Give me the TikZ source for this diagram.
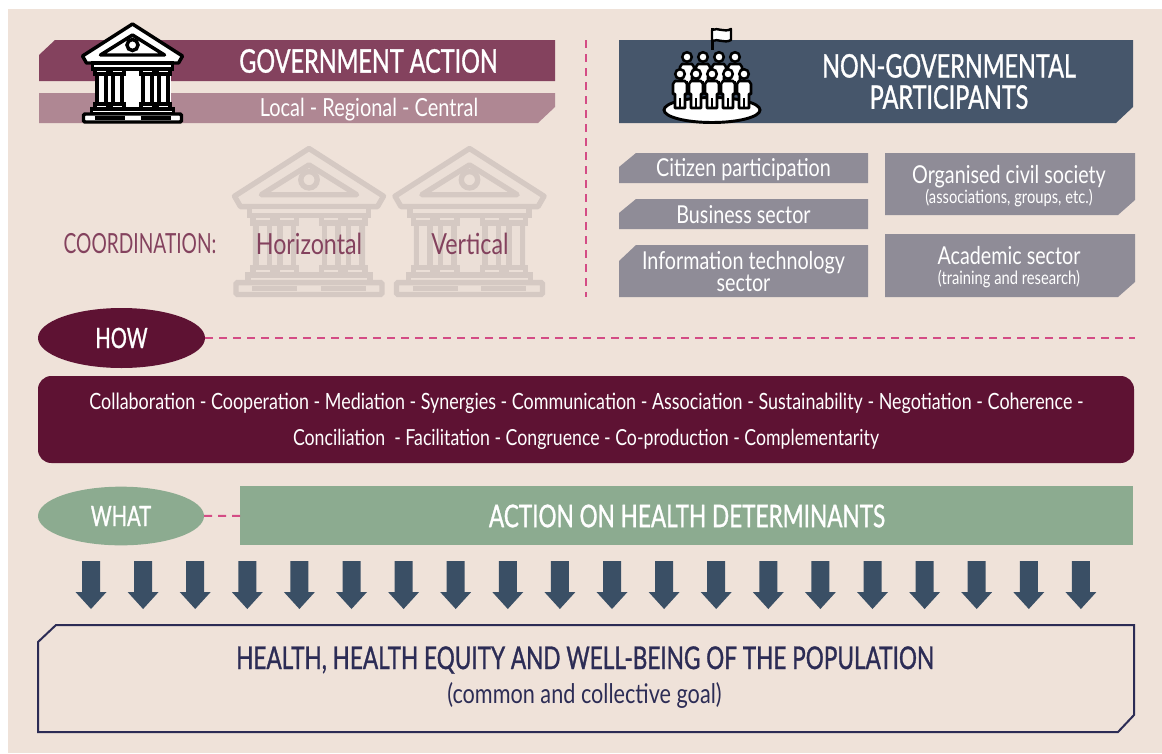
\documentclass[tikz,border=0pt]{standalone}
\usepackage{xcolor}
\usepackage{fontspec}
\setmainfont{Lato}[FakeStretch=0.8]
\newfontfamily\capsfont{Lato}[FakeStretch=0.72,FakeBold=1]
\newfontfamily\capsthin{Lato}[FakeStretch=0.69]
\usetikzlibrary{shapes.geometric}
\definecolor{paper}{HTML}{EFE2D9}
\definecolor{govdark}{HTML}{84425E}
\definecolor{govlight}{HTML}{AF8793}
\definecolor{slate}{HTML}{46566B}
\definecolor{greybox}{HTML}{8F8C97}
\definecolor{wine}{HTML}{5E1233}
\definecolor{sage}{HTML}{8CAB90}
\definecolor{arrowblue}{HTML}{3A4F65}
\definecolor{inkblue}{HTML}{2C2C55}
\definecolor{dashpink}{HTML}{D44C85}
\definecolor{ghost}{HTML}{D5C9C3}
\definecolor{ghostfill}{HTML}{EBDFD7}
\newcommand{\txt}[1]{\fontsize{#1}{#1}\selectfont}
\tikzset{
  x=0.75pt,y=-0.75pt,
  bar/.style={fill=#1,inner sep=0pt,outer sep=0pt,rectangle},
  oval/.style={fill=#1,ellipse,inner sep=0pt,outer sep=0pt,text=white,font=\capsfont\txt{21}},
  whitetext/.style={text=white,inner sep=0pt,align=center},
  linkdash/.style={dashpink,line width=1.5pt,dash pattern=on 6pt off 4.5pt},
  pics/temple/.style n args={3}{code={
    \fill[#2](-38,40)rectangle(38,90);
    \foreach \cx in {-31,-15,15,31}{
      \draw[#1,fill=#2,line width=#3](\cx-4.5,50)rectangle(\cx+4.5,81);
      \draw[#1,fill=#2,line width=#3](\cx-6.5,46)rectangle(\cx+6.5,51);
      \draw[#1,fill=#2,line width=#3](\cx-6.5,81)rectangle(\cx+6.5,86);
    }
    \draw[#1,fill=#2,line width=#3,line join=round](0,1)--(50,33)--(46,40)--(-46,40)--(-50,33)--cycle;
    \draw[#1,line width=#3,line join=round](0,12)--(32,32)--(-32,32)--cycle;
    \draw[#1,line width=#3](0,22)circle(5.5);
    \draw[#1,fill=#2,line width=#3](-40,40)rectangle(40,46);
    \draw[#1,fill=#2,line width=#3](-41,86)rectangle(41,91);
    \draw[#1,fill=#2,line width=#3,rounded corners=1](-49,91)rectangle(49,99);
    \draw[#1,line width=#3](-38,95)--(-8,95)(8,95)--(38,95);
  }},
  pics/person/.style={code={
    \draw[black,fill=white,line width=1.9pt](0,0)circle(4.8);
    \draw[black,fill=white,line width=1.9pt,line join=round](-5,7)--(5,7)--(7,10)--(7,20)--(5,20)--(5,34)--(-5,34)--(-5,20)--(-7,20)--(-7,10)--cycle;
    \draw[black,line width=1.4pt](0,24)--(0,34);
  }},
}
\begin{document}
\begin{tikzpicture}
	\useasboundingbox(0,0)rectangle(1162,753);
	\fill[white](0,0)rectangle(1162,753);
	\fill[paper](8,9)rectangle(1162,753);
	% government side
	\fill[govdark](39,55)--(55,40)--(555,40)--(555,81)--(39,81)--cycle;
	\fill[govlight](39,93)--(555,93)--(555,107)--(538,123)--(39,123)--cycle;
	\node[whitetext,font=\capsfont\txt{24.4}](govtitle) at(368.5,61){GOVERNMENT ACTION};
	\node[whitetext,font=\txt{18.7}](leveltext) at(369,109.5){Local - Regional - Central};
	\pic at(132.5,23){temple={black}{white}{2.6pt}};
	\pic[scale=1.49] at(309,147){temple={ghost}{ghostfill}{4pt}};
	\pic[scale=1.49] at(469.5,147){temple={ghost}{ghostfill}{4pt}};
	\node[text=govdark,inner sep=0pt,font=\capsthin\txt{20.8}](coordlabel) at(140,243.5){COORDINATION:};
	\node[text=govdark,inner sep=0pt,font=\txt{21.8}](horizontal) at(309,244){Horizontal};
	\node[text=govdark,inner sep=0pt,font=\txt{21.8}](vertical) at(470,244){Vertical};
	% divider
	\coordinate(divtop) at(586,40);
	\coordinate(divbottom) at(586,297);
	\draw[linkdash](divtop)--(divbottom);
	% non governmental side
	\fill[slate](619,40)--(1133,40)--(1133,107)--(1116,123)--(619,123)--cycle;
	\node[whitetext,font=\capsfont\txt{24.4}](ngotitle) at(949,81.5){NON-GOVERNMENTAL\\[-1pt]PARTICIPANTS};
	\draw[black,line width=2.2pt,fill=white](712,110)ellipse(48 and 12.5);
	\fill[black](710.5,28)rectangle(713.5,50);
	\draw[black,fill=white,line width=1.8pt,line join=round](712,30).. controls (718,27) and (724,33) ..(731,29)--(731,40).. controls (724,44) and (718,38) ..(712,41)--cycle;
	\foreach \hx in {687,703,719,735}{\pic at(\hx,57){person};}
	\foreach \hx in {680,696,712,728,744}{\pic at(\hx,74){person};}
	\fill[greybox](619,167)--(636,153)--(868,153)--(868,183)--(619,183)--cycle;
	\fill[greybox](619,213)--(636,199)--(868,199)--(868,229)--(619,229)--cycle;
	\fill[greybox](619,261)--(636,245)--(868,245)--(868,297)--(619,297)--cycle;
	\fill[greybox](885,153)--(1135,153)--(1135,200)--(1118,215)--(885,215)--cycle;
	\fill[greybox](885,234)--(1135,234)--(1135,282)--(1118,297)--(885,297)--cycle;
	\node[whitetext,font=\txt{18.5}](citizentext) at(743.5,169.5){Citizen participation};
	\node[whitetext,font=\txt{18.5}](businesstext) at(743.5,215){Business sector};
	\node[whitetext,font=\txt{18.5}](ittext) at(743.5,272){Information technology\\[-2pt]sector};
	\node[whitetext,font=\txt{18.5}](civiltext) at(1009,176.5){Organised civil society};
	\node[whitetext,font=\txt{13.8}](civilsub) at(1009,198){(associations, groups, etc.)};
	\node[whitetext,font=\txt{18.5}](academictext) at(1009,256){Academic sector};
	\node[whitetext,font=\txt{13.8}](academicsub) at(1009,279){(training and research)};
	% how
	\node[oval=wine,minimum width=125.25pt,minimum height=45pt](how) at(121.5,338){HOW};
	\coordinate(howend) at(1135,338);
	\draw[linkdash](how)--(howend);
	\node[fill=wine,rectangle,rounded corners=10pt,inner sep=0pt,minimum width=822pt,minimum height=65.25pt](howbar) at(586,419.5){};
	\node[whitetext,font=\txt{16.8}](howone) at(586.5,403){Collaboration - Cooperation - Mediation - Synergies - Communication - Association - Sustainability - Negotiation - Coherence -};
	\node[whitetext,font=\txt{16.6}](howtwo) at(586,439){Conciliation \ - Facilitation - Congruence - Co-production - Complementarity};
	% what
	\node[oval=sage,minimum width=124.5pt,minimum height=44pt](what) at(121,516){WHAT};
	\node[bar=sage,minimum width=669.75pt,minimum height=44.25pt](actionbar) at(686.5,515.5){};
	\draw[linkdash](what)--(actionbar);
	\node[whitetext,font=\capsfont\txt{23.5}](actiontext) at(687,516){ACTION ON HEALTH DETERMINANTS};
	% arrows
	\foreach \i in {0,...,19}{
		\fill[arrowblue]({91+52.1*\i-9},561)--({91+52.1*\i+9},561)--({91+52.1*\i+9},592)--({91+52.1*\i+15.5},592)--({91+52.1*\i},609)--({91+52.1*\i-15.5},592)--({91+52.1*\i-9},592)--cycle;
	}
	% goal
	\draw[inkblue,line width=1.5pt](38,642)--(56,625)--(1134,625)--(1134,715)--(1118,732)--(38,732)--cycle;
	\node[text=inkblue,inner sep=0pt,font=\capsfont\txt{23.5}](goaltext) at(585,660){HEALTH, HEALTH EQUITY AND WELL-BEING OF THE POPULATION};
	\node[text=inkblue,inner sep=0pt,font=\txt{20.3}](goalsub) at(584.5,695){(common and collective goal)};
\end{tikzpicture}
\end{document}
